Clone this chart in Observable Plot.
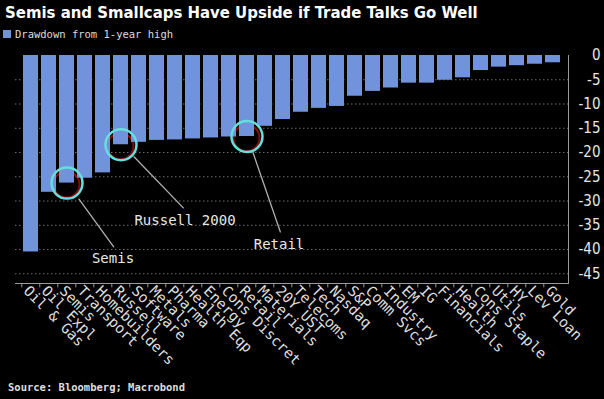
<!DOCTYPE html>
<html><head><meta charset="utf-8">
<script src="https://cdn.jsdelivr.net/npm/d3@7"></script>
<script src="https://cdn.jsdelivr.net/npm/@observablehq/plot@0.6"></script>
<style>
html,body{margin:0;padding:0;background:#000;width:604px;height:399px;overflow:hidden}
#wrap{position:relative;width:604px;height:399px}
#title{position:absolute;left:5px;top:3px;font:bold 16.6px "DejaVu Sans Condensed","DejaVu Sans",sans-serif;color:#fff;white-space:nowrap}
#legend{position:absolute;left:3px;top:28px;font:10.5px "DejaVu Sans Mono",monospace;color:#ddd;display:flex;align-items:center;white-space:nowrap}
#legend .sw{width:8px;height:8px;background:#7093dc;margin-right:4px}
#chart{position:absolute;left:0;top:45px}
#source{position:absolute;left:8px;top:381px;font:bold 10.5px "DejaVu Sans Mono",monospace;color:#ddd;white-space:nowrap}
</style></head>
<body>
<div id="wrap">
  <div id="title">Semis and Smallcaps Have Upside if Trade Talks Go Well</div>
  <div id="legend"><span class="sw"></span><span>Drawdown from 1-year high</span></div>
  <div id="chart"></div>
  <div id="source">Source: Bloomberg; Macrobond</div>
</div>
<script>
const categories = ["Oil & Gas","Oil Expl","Semis","Transport","Homebuilders","Russell","Software","Metals","Pharma","Health Eqp","Energy","Cons Discret","Retail","Materials","20Y UST","Telecoms","Tech","Nasdaq","S&P","Comm Svcs","Industry","EM","IG","Financials","Health","Cons Staple","Utils","HY","Lev Loan","Gold"];
const drawdown = [-40.5,-28.2,-26.3,-25.3,-24.2,-18.4,-17.9,-17.5,-17.4,-17.2,-17.0,-16.8,-16.7,-14.6,-13.2,-11.7,-10.9,-10.5,-8.4,-7.4,-6.7,-5.7,-5.7,-5.1,-4.6,-3.1,-2.4,-2.1,-1.8,-1.5];
const yTicks = [0,-5,-10,-15,-20,-25,-30,-35,-40,-45];
const gridTicks = [-5,-10,-15,-20,-25,-30,-35,-40,-45];
const annotatedCats = ["Semis","Russell","Retail"];
const annotationLabels = ["Semis","Russell 2000","Retail"];

const data = categories.map((c,i)=>({cat:c, v:drawdown[i]}));
const ann = annotatedCats.map((c,i)=>({cat:c, v:drawdown[categories.indexOf(c)], label:annotationLabels[i]}));

const mono = "DejaVu Sans Mono, monospace";
const lineShape = {draw(ctx, l){ ctx.moveTo(0,0); ctx.lineTo(0,-l); }};

function annotation(cat, o){
  const d = ann.filter(a=>a.cat===cat);
  return [
    Plot.vector(d, {x:"cat", y:"v", length:o.len, rotate:o.rot, anchor:"start", shape:lineShape, dx:o.lx, dy:o.ly, stroke:"#b0b0b0", strokeWidth:1.3}),
    Plot.text(d, {x:"cat", y:"v", text:"label", dx:o.tx, dy:o.ty, fill:"#e8e8e8", fontSize:14, fontFamily:mono})
  ];
}

const chart = Plot.plot({
  width:604, height:335,
  marginTop:10, marginBottom:97, marginLeft:15, marginRight:36,
  style:{background:"#000", color:"#ddd"},
  x:{domain:categories, paddingInner:0.18, paddingOuter:0.09, axis:null, label:null},
  y:{domain:[-47,0], axis:null, label:null},
  marks:[
    Plot.gridY(gridTicks, {stroke:"#8a8a8a", strokeOpacity:0.8, strokeDasharray:"1.5,2.5"}),
    Plot.dot(ann, {x:"cat", y:"v", r:13, dy:1.5, dx:-0.5, stroke:"#8a0a0a", strokeWidth:2, fill:"none"}),
    Plot.barY(data, {x:"cat", y:"v", fill:"#7093dc"}),
    Plot.frame({anchor:"right", stroke:"#9a9a9a"}),
    Plot.frame({anchor:"bottom", stroke:"#9a9a9a"}),
    Plot.ruleX(categories, {x:d=>d, y1:-47, y2:-47.9, dx:-9.2, stroke:"#9a9a9a"}),
    Plot.axisY(yTicks, {anchor:"right", label:null, tickSize:0, tickPadding:32, textAnchor:"end", tickFormat:d=>String(d), fontSize:15, fill:"#e6e6e6", fontFamily:"DejaVu Sans Condensed, DejaVu Sans, sans-serif"}),
    Plot.axisX({anchor:"bottom", label:null, tickSize:0, tickRotate:45, tickPadding:5, dx:-5, fontSize:14.5, fill:"#dedede", fontFamily:mono}),
    Plot.dot(ann, {x:"cat", y:"v", r:15.5, stroke:"#66dede", strokeWidth:2.5, fill:"none"}),
    ...annotation("Semis", {lx:12, ly:16, len:59, rot:144, tx:46, ty:75}),
    ...annotation("Russell", {lx:13, ly:12, len:71, rot:136, tx:64, ty:76}),
    ...annotation("Retail", {lx:6, ly:16, len:84, rot:161, tx:32, ty:108})
  ]
});
document.getElementById("chart").appendChild(chart);
</script>
</body></html>
